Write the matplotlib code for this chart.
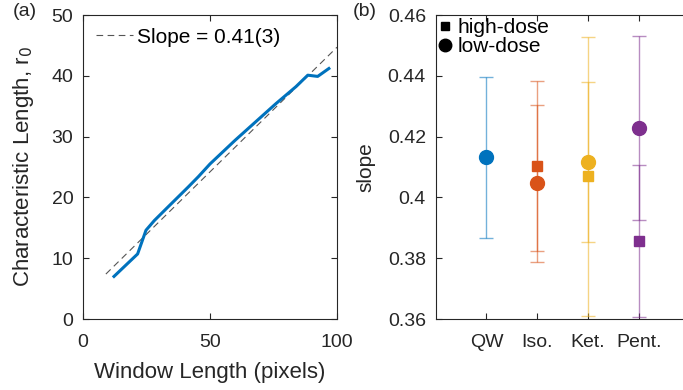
import numpy as np
import matplotlib.pyplot as plt

plt.rcParams['font.family'] = ['Liberation Sans', 'DejaVu Sans']

# panel (a): characteristic length vs window length
win_len = [12.2, 21.5, 24.8, 28.1, 33.4, 41.4, 45.4, 50.0, 59.9, 67.9, 75.9, 83.8, 88.5, 92.4, 96.8]
r0 = [7.0, 10.7, 14.6, 16.2, 18.4, 21.7, 23.4, 25.5, 29.4, 32.4, 35.4, 38.2, 40.1, 39.9, 41.2]
fit_x = [9, 100]
fit_slope = 0.41
fit_icpt = 3.7

# panel (b): slopes per condition
groups = ['QW', 'Iso.', 'Ket.', 'Pent.']
colors = ['#0072BD', '#D95319', '#EDB120', '#7E2F8E']
low_val = [0.4132, 0.4046, 0.4116, 0.4229]
low_err = [0.0265, 0.0258, 0.0262, 0.0302]
high_val = [None, 0.4103, 0.4069, 0.3856]
high_err = [None, 0.0279, 0.0458, 0.0250]

fig = plt.figure(figsize=(6.83, 3.9), dpi=100)

ax1 = fig.add_axes([83/683, 71/390, 254/683, 304/390])
fx = np.array(fit_x)
ax1.plot(fx, fit_slope*fx + fit_icpt, '--', color='#555555', lw=0.8, dashes=(6, 4),
         label='Slope = 0.41(3)')
ax1.plot(win_len, r0, '-', color='#0072BD', lw=2.2)
ax1.set_xlim(0, 100)
ax1.set_ylim(0, 50)
ax1.set_xticks([0, 50, 100])
ax1.set_yticks([0, 10, 20, 30, 40, 50])
ax1.set_xlabel('Window Length (pixels)', fontsize=16, color='#262626', labelpad=8)
ax1.set_ylabel('Characteristic Length, r$_0$', fontsize=16, color='#262626', labelpad=11)
ax1.legend(loc='upper left', frameon=False, fontsize=15, handlelength=1.8,
           handletextpad=0.2, borderaxespad=0.2)
ax1.text(-0.275, 1.01, '(a)', transform=ax1.transAxes, fontsize=14, va='center',
         color='#262626')

ax2 = fig.add_axes([435.7/683, 71/390, 254/683, 304/390])
xs = np.arange(1, len(groups) + 1)
for i, c in enumerate(colors):
    ax2.errorbar(xs[i], low_val[i], yerr=low_err[i], fmt='none', ecolor=c,
                 alpha=0.55, elinewidth=1, capsize=5)
    if high_val[i] is not None:
        ax2.errorbar(xs[i], high_val[i], yerr=high_err[i], fmt='none', ecolor=c,
                     alpha=0.55, elinewidth=1, capsize=5)
    ax2.plot(xs[i], low_val[i], 'o', color=c, ms=10)
    if high_val[i] is not None:
        ax2.plot(xs[i], high_val[i], 's', color=c, ms=7)
ax2.plot([], [], 's', color='black', ms=6, label='high-dose')
ax2.plot([], [], 'o', color='black', ms=9, label='low-dose')
ax2.set_xlim(0, 5)
ax2.set_ylim(0.36, 0.46)
ax2.set_xticks(xs)
ax2.set_xticklabels(groups)
ax2.set_yticks([0.36, 0.38, 0.40, 0.42, 0.44, 0.46])
ax2.set_yticklabels(['0.36', '0.38', '0.4', '0.42', '0.44', '0.46'])
ax2.set_ylabel('slope', fontsize=15, color='#262626', labelpad=9)
ax2.legend(loc='upper left', frameon=False, fontsize=15, handlelength=0.6,
           handletextpad=0.3, borderaxespad=0.05, labelspacing=0.0, borderpad=0.1)
ax2.text(-0.325, 1.01, '(b)', transform=ax2.transAxes, fontsize=14, va='center',
         color='#262626')

for ax in (ax1, ax2):
    ax.tick_params(direction='in', labelsize=14, top=True, right=True, length=4,
                   labelcolor='#262626', color='#262626')
    ax.tick_params(axis='x', pad=11)
    ax.tick_params(axis='y', pad=7)
    for s in ax.spines.values():
        s.set_color('#262626')
        s.set_linewidth(0.8)

fig.savefig('out.png', dpi=100)
